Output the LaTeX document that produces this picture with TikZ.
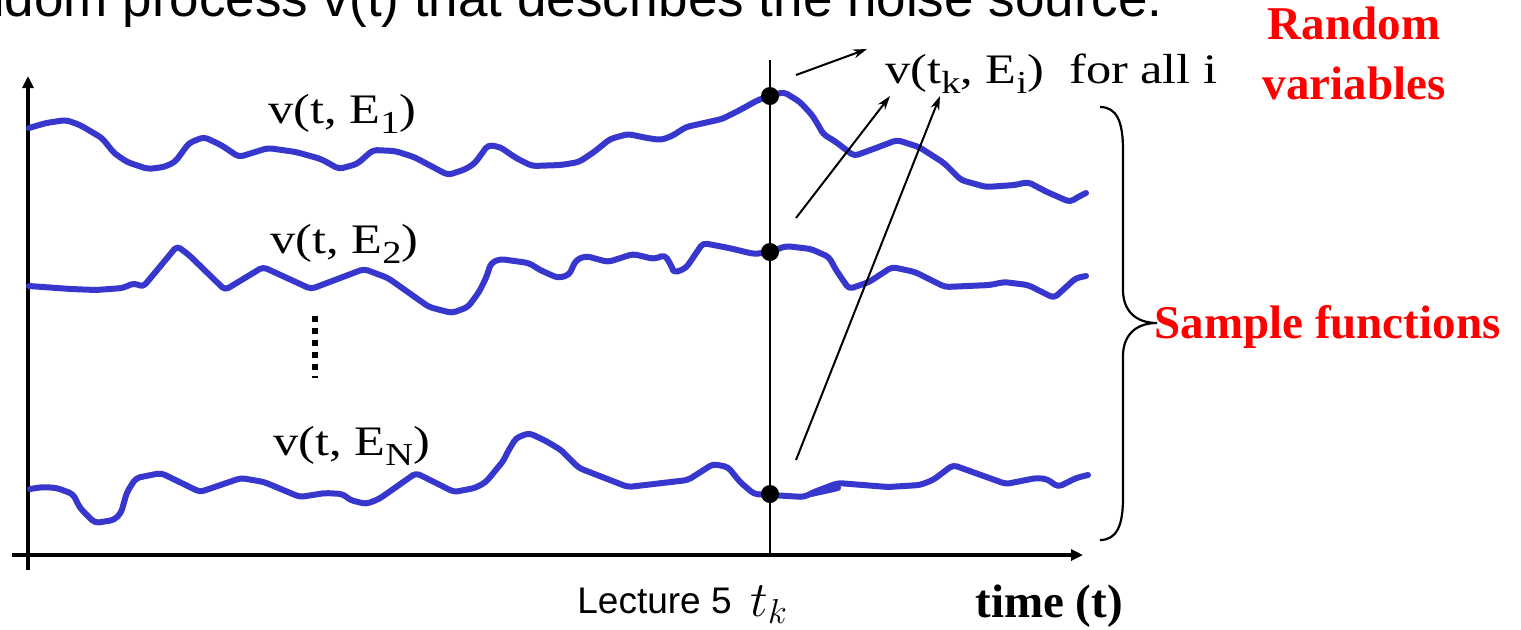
\documentclass[tikz,border=0pt]{standalone}
\usepackage{fontspec}
\setmainfont{Liberation Serif}
\newfontfamily\labelfont[FakeStretch=1.2]{Liberation Serif}
\newfontfamily\slidefont{Liberation Sans}
\usepackage{xcolor}
\usetikzlibrary{arrows.meta, positioning}

\definecolor{wavecol}{RGB}{55,55,205}
\definecolor{notecol}{RGB}{255,0,0}
\newcommand{\idx}[1]{\raisebox{-0.55ex}{\fontsize{16}{16}\selectfont #1}}

\begin{document}
\begin{tikzpicture}[
    x=0.5pt, y=-0.5pt,
    wave/.style={draw=wavecol, line width=3pt, line join=round, line cap=round, rounded corners=2pt},
    axis/.style={line width=2.4pt, -{Triangle[length=6pt, width=5.5pt]}},
    lbl/.style={inner sep=0pt, font=\labelfont\fontsize{21}{25}\selectfont},
    note/.style={inner sep=0pt, text=notecol, font=\bfseries\fontsize{23.5}{30}\selectfont},
    dot/.style={circle, fill=black, inner sep=0pt, minimum size=9pt},
    arrow/.style={line width=1pt, -{Stealth[length=7pt, width=4.5pt]}}
]
    \clip (0,0) rectangle (1521,629);

    % Heading line of the slide (cut at the top)
    \node [inner sep=0pt, anchor=base east, font=\slidefont\fontsize{26.5}{30}\selectfont] (heading) at (1163,16) {Random process v(t) that describes the noise source.};

    % Axes
    \draw [axis] (28,570) -- (28,76);
    \draw [axis] (12,555) -- (1083,555);
    \draw [line width=1.3pt] (770,60) -- (770,555);

    % Sample functions
    \draw [wave] (29,128) -- (46,123) -- (66,120) -- (80,125) -- (102,138) -- (114,153) -- (127,162) -- (148,169) -- (164,167) -- (175,162) -- (189,143) -- (204,137) -- (221,145) -- (239,157) -- (268,148) -- (296,152) -- (321,159) -- (339,169) -- (357,164) -- (373,150) -- (395,151) -- (414,157) -- (448,175) -- (466,169) -- (475,163) -- (488,145) -- (500,147) -- (516,158) -- (532,166) -- (561,165) -- (579,162) -- (594,152) -- (610,139) -- (628,134) -- (647,138) -- (661,140) -- (672,136) -- (686,127) -- (704,123) -- (722,119) -- (740,110) -- (758,100) -- (770,96) -- (784,92) -- (800,102) -- (812,115) -- (820,128) -- (823,134) -- (836,142) -- (854,156) -- (876,148) -- (897,140) -- (919,147) -- (944,163) -- (961,180) -- (986,187) -- (1015,185) -- (1028,182) -- (1047,192) -- (1070,202) -- (1078,197) -- (1086,193);
    \draw [wave] (29,286) -- (71,289) -- (96,290) -- (123,288) -- (134,283) -- (143,287) -- (163,263) -- (177,246) -- (189,255) -- (225,290) -- (263,267) -- (311,289) -- (364,269) -- (388,278) -- (429,307) -- (452,313) -- (468,307) -- (479,292) -- (486,278) -- (491,263) -- (500,259) -- (529,263) -- (540,270) -- (558,278) -- (569,275) -- (576,260) -- (586,256) -- (608,262) -- (633,254) -- (654,259) -- (665,255) -- (672,267) -- (674,273) -- (686,268) -- (703,243) -- (729,248) -- (754,254) -- (770,252) -- (786,246) -- (811,249) -- (829,257) -- (836,270) -- (849,289) -- (869,282) -- (892,267) -- (915,272) -- (945,287) -- (990,285) -- (1004,282) -- (1028,285) -- (1054,298) -- (1076,278) -- (1086,276);
    \draw [wave] (30,489) -- (43,487) -- (57,488) -- (73,494) -- (80,508) -- (95,523) -- (114,520) -- (121,513) -- (127,492) -- (136,478) -- (161,473) -- (200,492) -- (241,478) -- (264,482) -- (300,497) -- (325,493) -- (343,494) -- (350,500) -- (366,504) -- (379,499) -- (416,473) -- (454,492) -- (475,488) -- (486,482) -- (504,460) -- (507,453) -- (516,438) -- (529,433) -- (546,441) -- (561,450) -- (579,468) -- (628,487) -- (688,480) -- (713,464) -- (728,467) -- (740,482) -- (754,494) -- (771,495) -- (804,497) -- (814,492) -- (838,483) -- (888,487) -- (920,485) -- (933,480) -- (953,465) -- (1006,484) -- (1036,478) -- (1047,479) -- (1058,487) -- (1076,478) -- (1088,475);
    \draw [wave] (811,494) -- (838,488);

    % Samples at t_k
    \node [dot] (s1) at (770,96) {};
    \node [dot] (s2) at (770,252) {};
    \node [dot] (sn) at (770,494) {};

    % Labels
    \node [lbl, anchor=base west] (e1) at (268,123) {v(t, E\idx{1})};
    \node [lbl, anchor=base west] (e2) at (270,253) {v(t, E\idx{2})};
    \node [lbl, anchor=base west] (en) at (273,455) {v(t, E\idx{N})};
    \draw [line width=2.6pt, dash pattern=on 3pt off 3pt] (315,316) -- (315,378);
    \node [lbl, anchor=base west] (rv) at (885,83) {v(t\idx{k}, E\idx{i})\hspace{0.6em}for all i};

    % Arrows
    \coordinate (a1) at (796,75);
    \coordinate (a2) at (796,218);
    \coordinate (a3) at (796,460);
    \draw [arrow] (a1) -- ([xshift=-9pt, yshift=2pt]rv.north west);
    \draw [arrow] (a2) -- ([xshift=2.5pt, yshift=-1pt]rv.south west);
    \draw [arrow] (a3) -- ([xshift=27.5pt, yshift=-1pt]rv.south west);

    % Brace and notes
    \coordinate (bracetip) at (1157,323);
    \draw [line width=1.1pt] (1100,107) .. controls (1117,107) and (1123,122) .. (1123,150) -- (1123,290) .. controls (1123,310) and (1135,323) .. (bracetip) .. controls (1135,323) and (1123,336) .. (1123,356) -- (1123,498) .. controls (1123,525) and (1117,540) .. (1100,540);
    \node [note, anchor=west] (sample) at ([xshift=-1.5pt, yshift=-2pt]bracetip) {Sample functions};
    \node [note, align=center, anchor=south] (randvar) at (1354,100) {Random\\variables};
    \node [note, text=black, anchor=base west] (time) at (975,617) {time (t)};
    \node [inner sep=0pt, anchor=base west, font=\slidefont\fontsize{18.5}{20}\selectfont] (lecture) at (577,613) {Lecture 5};
    \node [inner sep=0pt, anchor=base west, font=\fontsize{25}{27}\selectfont] (tk) at (750,616) {$t_k$};

\end{tikzpicture}
\end{document}
